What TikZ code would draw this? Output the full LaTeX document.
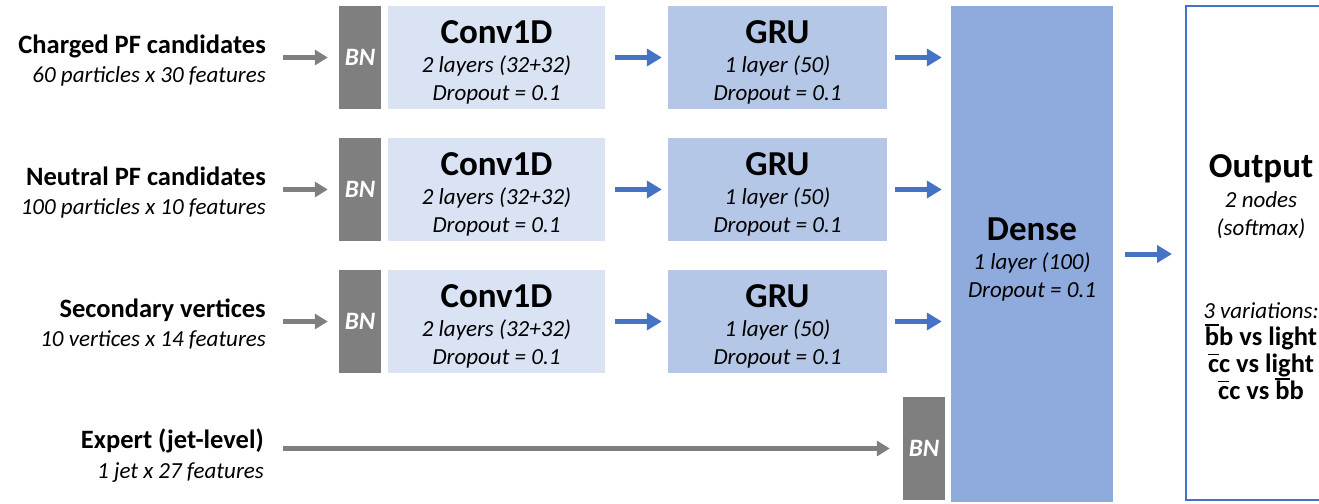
\documentclass[tikz,border=0pt]{standalone}
\usepackage{fontspec}
\setmainfont{Carlito}
\usetikzlibrary{arrows.meta}

\definecolor{bngray}{HTML}{7F7F7F}
\definecolor{convblue}{HTML}{DAE3F3}
\definecolor{grublue}{HTML}{B4C7E7}
\definecolor{denseblue}{HTML}{8FAADC}
\definecolor{accent}{HTML}{4472C4}

% layer name on top of a block, struts keep the text block centred
\newcommand{\lyr}[1]{\rule{0pt}{37pt}{\fontsize{35}{35}\selectfont\bfseries\upshape #1}}
\newcommand{\lst}[1]{#1\rule[-8pt]{0pt}{8pt}}
% anti-quark bar
\newcommand{\antiq}[1]{\setbox0\hbox{#1}\rlap{\smash{\raisebox{\dimexpr\ht0/2+10pt\relax}{\rule{\wd0}{1.5pt}}}}\box0}

\begin{document}
\begin{tikzpicture}[x=1pt,y=-1pt,
  font=\fontsize{23}{28}\selectfont\itshape,
  bnbox/.style={fill=bngray,minimum width=42pt,minimum height=103pt,inner sep=0pt,
    text=white,font=\fontsize{25}{25}\selectfont\bfseries\itshape},
  stage/.style={minimum width=#1,minimum height=103pt,inner sep=0pt,align=center},
  intitle/.style={anchor=base east,inner sep=0pt,font=\fontsize{26.5}{26.5}\selectfont\bfseries},
  insub/.style={anchor=base east,inner sep=0pt},
  feed/.style={draw=bngray,line width=5pt,-{Triangle[length=13pt,width=15pt]}},
  flow/.style={draw=accent,line width=5pt,-{Triangle[length=15pt,width=17pt]}}]
\path[use as bounding box,clip] (0,0) rectangle (1319,503);

% input labels
\node[intitle] (chg) at (266,53.5) {Charged PF candidates};
\node[insub] (chgsub) at (266,82.5) {60 particles x 30 features};
\node[intitle] (neu) at (266,185.5) {Neutral PF candidates};
\node[insub] (neusub) at (266,214.5) {100 particles x 10 features};
\node[intitle] (sec) at (266,317.5) {Secondary vertices};
\node[insub] (secsub) at (266,346.5) {10 vertices x 14 features};
\node[intitle] (exp) at (264,448.5) {Expert (jet-level)};
\node[insub] (expsub) at (264,478.5) {1 jet x 27 features};

% dense + output
\node[stage=162pt,minimum height=496pt,fill=denseblue] (dense) at (1032,254)
  {\lyr{Dense}\\[1pt] 1 layer (100)\\ \lst{Dropout = 0.1}};
\node[draw=accent,line width=2pt,minimum width=150pt,minimum height=494pt,inner sep=0pt] (out) at (1261,253) {};
\node[align=center] (outtxt) at (1261,277)
  {\rule{0pt}{30pt}{\fontsize{35}{35}\selectfont\bfseries\upshape Output}\\[2pt]
   2 nodes\\ (softmax)\\[55pt]
   3 variations:\\[-1pt]
   {\fontsize{26.5}{28}\selectfont\bfseries\upshape \antiq{b}b vs light}\\[-1pt]
   {\fontsize{26.5}{28}\selectfont\bfseries\upshape \antiq{c}c vs light}\\[-1pt]
   \lst{\fontsize{26.5}{28}\selectfont\bfseries\upshape \antiq{c}c vs \antiq{b}b}};

% charged
\begin{scope}[shift={(0,0)}]
\node[bnbox] (bn1) at (360,57.5) {BN};
\node[stage=217pt,fill=convblue] (conv1) at (496.5,57.5) {\lyr{Conv1D}\\[1pt] 2 layers (32+32)\\ \lst{Dropout = 0.1}};
\node[stage=219pt,fill=grublue] (gru1) at (777.5,57.5) {\lyr{GRU}\\[1pt] 1 layer (50)\\ \lst{Dropout = 0.1}};
\end{scope}
% neutral
\begin{scope}[shift={(0,132)}]
\node[bnbox] (bn2) at (360,57.5) {BN};
\node[stage=217pt,fill=convblue] (conv2) at (496.5,57.5) {\lyr{Conv1D}\\[1pt] 2 layers (32+32)\\ \lst{Dropout = 0.1}};
\node[stage=219pt,fill=grublue] (gru2) at (777.5,57.5) {\lyr{GRU}\\[1pt] 1 layer (50)\\ \lst{Dropout = 0.1}};
\end{scope}
% secondary vertices
\begin{scope}[shift={(0,264)}]
\node[bnbox] (bn3) at (360,57.5) {BN};
\node[stage=217pt,fill=convblue] (conv3) at (496.5,57.5) {\lyr{Conv1D}\\[1pt] 2 layers (32+32)\\ \lst{Dropout = 0.1}};
\node[stage=219pt,fill=grublue] (gru3) at (777.5,57.5) {\lyr{GRU}\\[1pt] 1 layer (50)\\ \lst{Dropout = 0.1}};
\end{scope}
% expert
\node[bnbox] (bn4) at (924,448.5) {BN};

% arrows
\draw[feed,shorten <=17pt,shorten >=11pt] (chg.east |- bn1) -- (bn1.west);
\draw[feed,shorten <=17pt,shorten >=11pt] (neu.east |- bn2) -- (bn2.west);
\draw[feed,shorten <=17pt,shorten >=11pt] (sec.east |- bn3) -- (bn3.west);
\draw[feed,shorten <=19pt,shorten >=13pt] (exp.east |- bn4) -- (bn4.west);
\draw[flow,shorten <=10pt,shorten >=6pt] (conv1) -- (gru1);
\draw[flow,shorten <=10pt,shorten >=6pt] (conv2) -- (gru2);
\draw[flow,shorten <=10pt,shorten >=6pt] (conv3) -- (gru3);
\draw[flow,shorten <=8pt,shorten >=9pt] (gru1.east) -- (gru1.east -| dense.west);
\draw[flow,shorten <=8pt,shorten >=9pt] (gru2.east) -- (gru2.east -| dense.west);
\draw[flow,shorten <=8pt,shorten >=9pt] (gru3.east) -- (gru3.east -| dense.west);
\draw[flow,shorten <=12pt,shorten >=13pt] (dense.east) -- (dense.east -| out.west);
\end{tikzpicture}
\end{document}
